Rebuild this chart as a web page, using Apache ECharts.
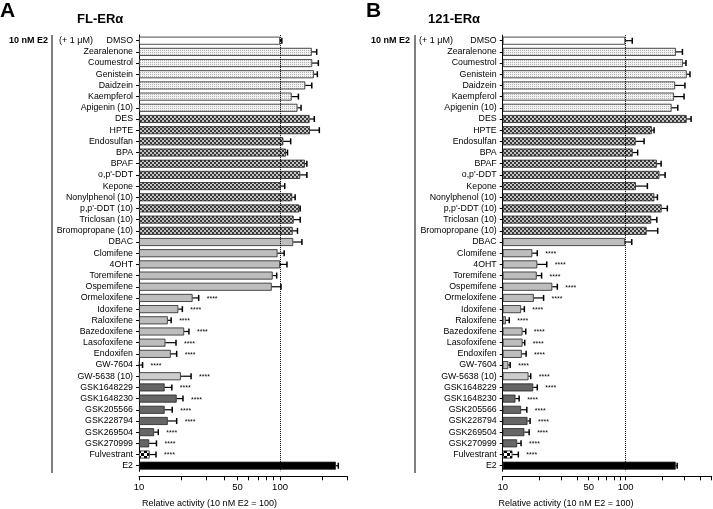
<!DOCTYPE html>
<html><head><meta charset="utf-8">
<script src="https://cdn.jsdelivr.net/npm/echarts@6/dist/echarts.min.js"></script>
<style>html,body{margin:0;padding:0;background:#fff}#c{width:713px;height:509px}</style>
</head><body><div id="c"></div><script>
const categories = ["DMSO","Zearalenone","Coumestrol","Genistein","Daidzein","Kaempferol","Apigenin (10)","DES","HPTE","Endosulfan","BPA","BPAF","o,p'-DDT","Kepone","Nonylphenol (10)","p,p'-DDT (10)","Triclosan (10)","Bromopropane (10)","DBAC","Clomifene","4OHT","Toremifene","Ospemifene","Ormeloxifene","Idoxifene","Raloxifene","Bazedoxifene","Lasofoxifene","Endoxifen","GW-7604","GW-5638 (10)","GSK1648229","GSK1648230","GSK205566","GSK228794","GSK269504","GSK270999","Fulvestrant","E2"];
const fillGroup = ["none","dots","dots","dots","dots","dots","dots","check","check","check","check","check","check","check","check","check","check","check","solid","solid","solid","solid","solid","solid","solid","solid","solid","solid","solid","solid","light","dark","dark","dark","dark","dark","dark","fulv","black"];
const flValues = [100,168,169,174,151,121,133,162,163,105.5,110,150,139,101,122,137,125,123,124,96,100,88.7,87.3,24.0,19.0,16.0,20.9,15.4,16.8,10.1,19.8,15.2,18.5,15.2,16.0,12.8,11.8,11.9,249];
const flSem = [3,14,18,10,17,14,8,13,27,13.5,3,5,16,7,6,2,14,10,19,11,12,6,14.3,2.5,1.3,0.9,1.7,2.9,1.7,0.5,3.6,1.9,2.0,2.0,2.5,0.9,1.5,1.3,10];
const flStars = [0,0,0,0,0,0,0,0,0,0,0,0,0,0,0,0,0,0,0,0,0,0,0,1,1,1,1,1,1,1,1,1,1,1,1,1,1,1,0];
const e121Values = [99,256,291,313,252,247,236,313,163,120.5,114,179,188,121,171,196,161,148,98.7,17.4,19.1,18.9,25.3,17.9,14.1,10.6,14.5,14.5,14.3,11.1,16.2,17.7,12.7,14.1,15.9,15.0,13.1,12.0,255];
const e121Sem = [14,33,18,20,51,51,29,27,7,20.5,11,15,21,29,10,22,18,34,13.3,1.7,3.7,1.8,2.5,3.6,0.9,0.7,0.9,0.6,1.2,0.4,0.7,1.4,0.9,1.6,0.8,1.4,1.0,1.4,7];
const e121Stars = [0,0,0,0,0,0,0,0,0,0,0,0,0,0,0,0,0,0,0,1,1,1,1,1,1,1,1,1,1,1,1,1,1,1,1,1,1,1,0];
const flTicks = [10,20,30,40,50,60,70,80,90,100,200,300];
const e121Ticks = [10,20,30,40,50,60,70,80,90,100,200,300,400,500];
const tickLabels = [10,50,100];

const FONT = "'Liberation Sans', Arial, sans-serif";
function pat(size, draw){const c=document.createElement('canvas');c.width=c.height=size;const g=c.getContext('2d');draw(g);return {image:c,repeat:'repeat'};}
const fills = {
  none:'#ffffff',
  dots:pat(2,g=>{g.fillStyle='#f2f2f2';g.fillRect(0,0,2,2);g.fillStyle='#b4b4b4';g.fillRect(0,0,1,1);}),
  check:pat(4,g=>{g.fillStyle='#c4c4c4';g.fillRect(0,0,4,4);g.fillStyle='#3a3a3a';g.fillRect(0,0,2,2);g.fillRect(2,2,2,2);}),
  solid:'#bdbdbd',
  light:'#cdcdcd',
  dark:'#666666',
  fulv:pat(6,g=>{g.fillStyle='#fff';g.fillRect(0,0,6,6);g.fillStyle='#000';g.fillRect(0,0,3,3);g.fillRect(3,3,3,3);}),
  black:'#000000'
};

function barData(vals){return vals.map((v,i)=>({value:v,itemStyle:{color:fills[fillGroup[i]]}}));}
function errData(vals,sem,stars){return vals.map((v,i)=>[v,i,sem[i],stars[i]]);}
function renderErr(params, api){
  const v=api.value(0), idx=api.value(1), e=api.value(2), s=api.value(3);
  const p0=api.coord([v,idx]), p1=api.coord([v+e,idx]);
  const ch=[
    {type:'line',shape:{x1:p0[0],y1:p0[1],x2:p1[0],y2:p1[1]},style:{stroke:'#000',lineWidth:1.2}},
    {type:'line',shape:{x1:p1[0],y1:p1[1]-3,x2:p1[0],y2:p1[1]+3},style:{stroke:'#000',lineWidth:1.5}}
  ];
  if(s){ch.push({type:'text',x:p1[0]+8,y:p1[1]+1,style:{text:'****',fontSize:7,fontFamily:FONT,fill:'#000',verticalAlign:'middle',align:'left'}});}
  return {type:'group',children:ch};
}
function xAxisCfg(gi,max,ticks){
  return {gridIndex:gi,type:'log',logBase:10,min:10,max:max,startValue:10,offset:5,
    axisLine:{show:true,lineStyle:{color:'#000',width:1}},
    axisTick:{show:true,length:4,customValues:ticks,lineStyle:{color:'#000',width:1}},
    minorTick:{show:false},
    axisLabel:{customValues:tickLabels,color:'#000',fontSize:9.5,fontFamily:FONT,margin:6},
    splitLine:{show:false}};
}
function yAxisCfg(gi){
  return {gridIndex:gi,type:'category',data:categories,inverse:true,
    axisLine:{show:true,lineStyle:{color:'#000',width:1}},
    axisTick:{show:true,length:3,alignWithLabel:true,lineStyle:{color:'#000'}},
    axisLabel:{interval:0,color:'#000',fontSize:8.8,fontFamily:FONT,margin:6}};
}
function barSeries(gi,vals){
  return {type:'bar',xAxisIndex:gi,yAxisIndex:gi,data:barData(vals),barWidth:8,clip:true,
    itemStyle:{borderColor:'#222',borderWidth:0.8},animation:false,
    markLine:{silent:true,symbol:'none',label:{show:false},lineStyle:{color:'#000',type:'dotted',width:1},data:[{xAxis:100}]}};
}
function errSeries(gi,vals,sem,stars){
  return {type:'custom',xAxisIndex:gi,yAxisIndex:gi,data:errData(vals,sem,stars),renderItem:renderErr,encode:{x:0,y:1},animation:false,z:5,clip:false};
}
const txt=(x,y,t,size,bold,align)=>({type:'text',x:x,y:y,style:{text:t,fontSize:size,fontWeight:bold?'bold':'normal',fontFamily:FONT,fill:'#000',align:align||'left',verticalAlign:'middle'}});
const vline=(x,y1,y2)=>({type:'line',shape:{x1:x,y1:y1,x2:x,y2:y2},style:{stroke:'#000',lineWidth:1}});

const chart = echarts.init(document.getElementById('c'),null,{renderer:'canvas'});
chart.setOption({
  animation:false,
  backgroundColor:'#fff',
  grid:[{left:139,width:208.3,top:35.1,height:436.2},{left:502.7,width:209,top:35.1,height:436.2}],
  xAxis:[xAxisCfg(0,300,flTicks),xAxisCfg(1,500,e121Ticks)],
  yAxis:[yAxisCfg(0),yAxisCfg(1)],
  series:[barSeries(0,flValues),errSeries(0,flValues,flSem,flStars),barSeries(1,e121Values),errSeries(1,e121Values,e121Sem,e121Stars)],
  graphic:[
    txt(0,11,'A',21,true), txt(77,19,'FL-ERα',13,true),
    txt(9,41,'10 nM E2',9,true), vline(52,35,473), txt(59,41,'(+ 1 μM)',9,false),
    txt(209.5,504,'Relative activity (10 nM E2 = 100)',9,false,'center'),
    txt(366,11,'B',21,true), txt(428,19,'121-ERα',13,true),
    txt(371,41,'10 nM E2',9,true), vline(415,35,473), txt(419,41,'(+ 1 μM)',9,false),
    txt(566,504,'Relative activity (10 nM E2 = 100)',9,false,'center')
  ]
});
</script></body></html>
